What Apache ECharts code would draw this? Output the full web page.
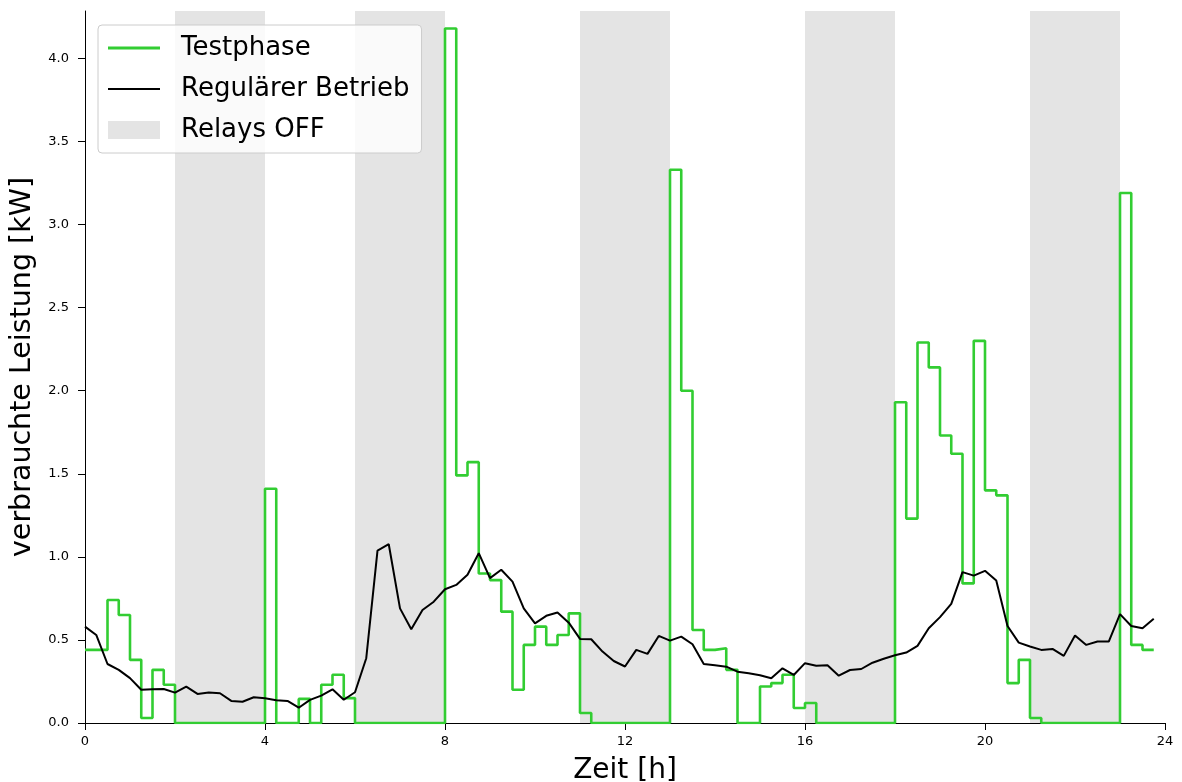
<!DOCTYPE html>
<html>
<head>
<meta charset="utf-8">
<script src="https://cdn.jsdelivr.net/npm/echarts@6/dist/echarts.min.js"></script>
<style>
  html, body { margin: 0; padding: 0; background: #ffffff; }
  #chart { width: 1182px; height: 782px; }
</style>
</head>
<body>
<div id="chart"></div>
<script>
// Sampling interval of both load profiles (hours): one value every 15 minutes
const STEP_H = 0.25;

// Test phase load [kW], held for each 15-minute slot
const testphase = [
  0.44, 0.44, 0.74, 0.65, 0.38, 0.03, 0.32, 0.23,
  0, 0, 0, 0, 0, 0, 0, 0,
  1.41, 0, 0, 0.145, 0, 0.23, 0.29, 0.15,
  0, 0, 0, 0, 0, 0, 0, 0,
  4.18, 1.49, 1.57, 0.90, 0.86, 0.67, 0.20, 0.47,
  0.58, 0.47, 0.53, 0.66, 0.06, 0, 0, 0,
  0, 0, 0, 0, 3.33, 2.00, 0.56, 0.44,
  0.45, 0.32, 0, 0, 0.22, 0.24, 0.29, 0.09,
  0.12, 0, 0, 0, 0, 0, 0, 0,
  1.93, 1.23, 2.29, 2.14, 1.73, 1.62, 0.84, 2.30,
  1.40, 1.37, 0.24, 0.38, 0.03, 0, 0, 0,
  0, 0, 0, 0, 3.19, 0.47, 0.44, 0.44
];

// Regular operation load [kW]
const regulaer = [
  0.58, 0.53, 0.355, 0.32, 0.27, 0.20, 0.203, 0.205,
  0.183, 0.219, 0.175, 0.183, 0.179, 0.133, 0.128, 0.155,
  0.149, 0.137, 0.133, 0.092, 0.139, 0.165, 0.203, 0.14,
  0.185, 0.39, 1.038, 1.076, 0.69, 0.564, 0.68, 0.73,
  0.805, 0.831, 0.892, 1.022, 0.872, 0.922, 0.851, 0.69,
  0.60, 0.645, 0.665, 0.604, 0.506, 0.504, 0.43, 0.373,
  0.34, 0.44, 0.416, 0.524, 0.496, 0.52, 0.474, 0.355,
  0.347, 0.339, 0.309, 0.299, 0.287, 0.269, 0.329, 0.289,
  0.36, 0.345, 0.347, 0.285, 0.319, 0.325, 0.363, 0.387,
  0.408, 0.424, 0.464, 0.57, 0.637, 0.717, 0.908, 0.887,
  0.916, 0.857, 0.584, 0.484, 0.46, 0.44, 0.446, 0.404,
  0.526, 0.47, 0.49, 0.49, 0.655, 0.584, 0.57, 0.627
];

// Periods with relays switched off [start h, end h]
const relaysOff = [[2, 4], [6, 8], [11, 13], [16, 18], [21, 23]];

// Axis ticks
const xTicks = [0, 4, 8, 12, 16, 20, 24];
const yTicks = [0, 0.5, 1.0, 1.5, 2.0, 2.5, 3.0, 3.5, 4.0];

const toPairs = vals => vals.map((v, i) => [i * STEP_H, v]);

const FONT = '"DejaVu Sans", sans-serif';
const GREEN = '#32cd32';
const BAND = '#e4e4e4';
const chart = echarts.init(document.getElementById('chart'), null, { renderer: 'canvas' });

chart.setOption({
  animation: false,
  backgroundColor: '#ffffff',
  grid: { left: 85, right: 17, top: 11, bottom: 59, containLabel: false, outerBoundsMode: 'none' },
  legend: {
    left: 98,
    top: 25,
    orient: 'vertical',
    itemWidth: 52,
    itemHeight: 18,
    itemGap: 15,
    padding: [10, 12, 10, 10],
    backgroundColor: 'rgba(255,255,255,0.8)',
    borderColor: '#cccccc',
    borderWidth: 1,
    borderRadius: 4,
    textStyle: {
      fontFamily: FONT,
      fontSize: 26,
      color: '#000000',
      padding: [0, 0, 0, 16]
    },
    data: [
      { name: 'Testphase', icon: 'path://M0 0H52V3H0Z' },
      { name: 'Regulärer Betrieb', icon: 'path://M0 0H52V2H0Z' },
      { name: 'Relays OFF', icon: 'rect' }
    ]
  },
  xAxis: {
    type: 'value',
    min: 0,
    max: 24,
    interval: 4,
    name: 'Zeit [h]',
    nameLocation: 'middle',
    nameGap: 34,
    nameTextStyle: { fontFamily: FONT, fontSize: 28, color: '#000000' },
    axisLine: { show: true, lineStyle: { color: '#000000', width: 1 } },
    axisTick: { show: true, length: 7, inside: false, lineStyle: { color: '#000000' }, customValues: xTicks },
    axisLabel: { fontFamily: FONT, fontSize: 13, color: '#000000', margin: 12, customValues: xTicks },
    splitLine: { show: false }
  },
  yAxis: {
    type: 'value',
    min: 0,
    max: 4.285,
    interval: 0.5,
    name: 'verbrauchte Leistung [kW]',
    nameLocation: 'middle',
    nameGap: 44,
    nameTextStyle: { fontFamily: FONT, fontSize: 28.5, color: '#000000' },
    axisLine: { show: true, lineStyle: { color: '#000000', width: 1 } },
    axisTick: { show: true, length: 7, inside: false, lineStyle: { color: '#000000' }, customValues: yTicks },
    axisLabel: {
      fontFamily: FONT, fontSize: 13, color: '#000000', margin: 16,
      customValues: yTicks,
      formatter: v => v.toFixed(1)
    },
    splitLine: { show: false }
  },
  series: [
    {
      name: 'Relays OFF',
      type: 'line',
      data: [],
      itemStyle: { color: BAND },
      lineStyle: { color: BAND },
      z: 1,
      markArea: {
        silent: true,
        itemStyle: { color: BAND },
        data: relaysOff.map(([a, b]) => [{ xAxis: a }, { xAxis: b }])
      }
    },
    {
      name: 'Testphase',
      type: 'line',
      step: 'end',
      symbol: 'none',
      data: toPairs(testphase),
      itemStyle: { color: GREEN },
      lineStyle: { color: GREEN, width: 2.6 },
      z: 3
    },
    {
      name: 'Regulärer Betrieb',
      type: 'line',
      symbol: 'none',
      data: toPairs(regulaer),
      itemStyle: { color: '#000000' },
      lineStyle: { color: '#000000', width: 2 },
      z: 4
    }
  ]
});
</script>
</body>
</html>
